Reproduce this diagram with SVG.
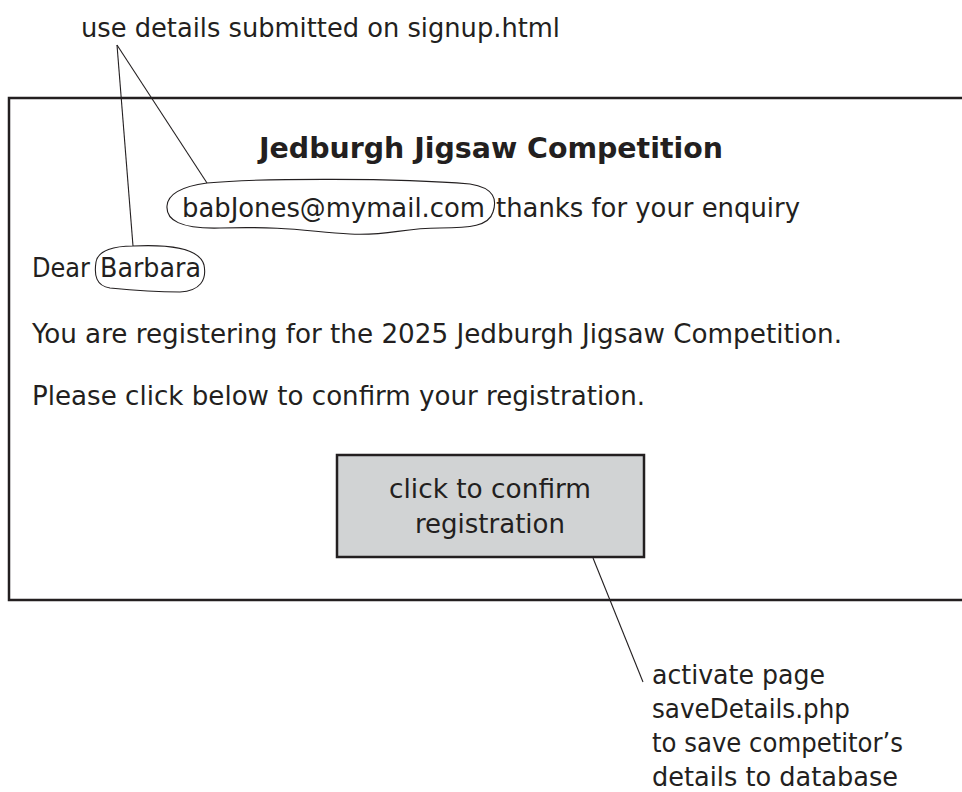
<svg xmlns="http://www.w3.org/2000/svg" width="962" height="792" viewBox="0 0 962 792">
  <style>
    .t { font-family: "DejaVu Sans Condensed", "DejaVu Sans", "Liberation Sans", sans-serif; font-stretch: condensed; font-size: 26px; fill: #231f20; }
    .b { font-family: "DejaVu Sans Condensed", "DejaVu Sans", "Liberation Sans", sans-serif; font-stretch: condensed; font-size: 28px; font-weight: bold; fill: #231f20; }
    .frame { fill: none; stroke: #231f20; stroke-width: 2.5; }
    .btn { fill: #d1d3d4; stroke: #231f20; stroke-width: 2.5; }
    .thin { fill: none; stroke: #231f20; stroke-width: 1.1; }
  </style>
  <rect width="962" height="792" fill="#ffffff"/>

  <g id="page">
    <path class="frame" d="M 965,98 L 9,98 L 9,600 L 965,600"/>
    <text class="b" x="259" y="158" textLength="464" lengthAdjust="spacingAndGlyphs">Jedburgh Jigsaw Competition</text>
    <text class="t" x="182" y="217" textLength="303" lengthAdjust="spacingAndGlyphs">babJones@mymail.com</text>
    <text class="t" x="496" y="217" textLength="304" lengthAdjust="spacingAndGlyphs">thanks for your enquiry</text>
    <text class="t" x="32" y="277" textLength="58" lengthAdjust="spacingAndGlyphs">Dear</text>
    <text class="t" x="100" y="277" textLength="101" lengthAdjust="spacingAndGlyphs">Barbara</text>
    <text class="t" x="32" y="343" textLength="810" lengthAdjust="spacingAndGlyphs">You are registering for the 2025 Jedburgh Jigsaw Competition.</text>
    <text class="t" x="32" y="405" textLength="613" lengthAdjust="spacingAndGlyphs">Please click below to confirm your registration.</text>
  </g>

  <g id="email-mark">
    <path class="thin" d="M 207,183 C 260,178 400,178 470,184 C 495,188 497,200 493,212 C 489,226 470,228 440,228 C 400,228 390,236 350,234 C 310,232 290,226 220,228 C 180,229 166,220 167,206 C 168,192 185,186 207,183 Z"/>
  </g>

  <g id="name-mark">
    <path class="thin" d="M 133,246 C 175,244 200,250 204,265 C 207,280 200,291 180,292 C 150,292 130,290 110,288 C 96,286 94,275 96,262 C 98,250 115,246 133,246 Z"/>
  </g>

  <g id="button">
    <rect class="btn" x="337" y="455" width="307" height="102"/>
    <text class="t" x="490" y="498" text-anchor="middle" textLength="202" lengthAdjust="spacingAndGlyphs">click to confirm</text>
    <text class="t" x="490" y="533" text-anchor="middle" textLength="150" lengthAdjust="spacingAndGlyphs">registration</text>
  </g>

  <g id="note-top">
    <text class="t" x="81" y="37" textLength="479" lengthAdjust="spacingAndGlyphs">use details submitted on signup.html</text>
  </g>

  <g id="note-bottom">
    <text class="t" x="652" y="684" textLength="173" lengthAdjust="spacingAndGlyphs">activate page</text>
    <text class="t" x="652" y="718" textLength="198" lengthAdjust="spacingAndGlyphs">saveDetails.php</text>
    <text class="t" x="652" y="752" textLength="251" lengthAdjust="spacingAndGlyphs">to save competitor’s</text>
    <text class="t" x="652" y="786" textLength="246" lengthAdjust="spacingAndGlyphs">details to database</text>
  </g>

  <g id="connectors">
    <line class="thin" x1="117" y1="45" x2="133" y2="246"/>
    <line class="thin" x1="117" y1="45" x2="207" y2="183"/>
    <line class="thin" x1="593" y1="558" x2="643" y2="682"/>
  </g>
</svg>
